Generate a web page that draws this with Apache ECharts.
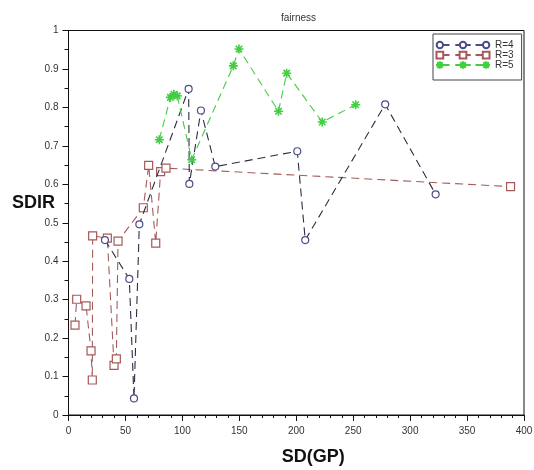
<!DOCTYPE html>
<html>
<head>
<meta charset="utf-8">
<script src="https://cdn.jsdelivr.net/npm/echarts@6/dist/echarts.min.js"></script>
<style>
html,body{margin:0;padding:0;background:#fff;}
#chart{width:534px;height:470px;}
</style>
</head>
<body>
<div id="chart"></div>
<script>
// Data
const seriesNames = ['R=4', 'R=3', 'R=5'];

const r4X = [32.0, 53.4, 57.5, 62.2, 105.5, 106.1, 116.3, 128.9, 200.9, 207.9, 278.1, 322.4];
const r4Y = [0.455, 0.354, 0.043, 0.496, 0.848, 0.601, 0.792, 0.646, 0.686, 0.455, 0.808, 0.574];

const r3X = [5.7, 7.2, 15.4, 19.8, 20.9, 21.2, 34.1, 40.0, 42.0, 43.5, 65.7, 70.4, 76.6, 80.9, 85.6, 388.2];
const r3Y = [0.234, 0.301, 0.284, 0.167, 0.091, 0.466, 0.460, 0.129, 0.146, 0.452, 0.539, 0.649, 0.447, 0.633, 0.642, 0.594];

const r5X = [79.7, 89.5, 92.5, 95.5, 108.2, 144.7, 149.7, 184.4, 191.6, 222.8, 252.2];
const r5Y = [0.716, 0.826, 0.834, 0.830, 0.664, 0.908, 0.952, 0.790, 0.889, 0.762, 0.807];

const xTicks = { min: 0, max: 400, interval: 50 };
const yTicks = { min: 0, max: 1, interval: 0.1 };

function pairs(xs, ys) { return xs.map((x, i) => [x, ys[i]]); }

const asterisk = 'path://M0,-5L0,5M-5,0L5,0M-3.6,-3.6L3.6,3.6M-3.6,3.6L3.6,-3.6';

// legend sample icons: marker - marker - marker joined by dashes (box 56 x 8)
function circ(cx) { return 'M' + (cx - 3.3) + ',4a3.3,3.3 0 1,0 6.6,0a3.3,3.3 0 1,0 -6.6,0'; }
function sq(cx) { return 'M' + (cx - 3.5) + ',0.5L' + (cx + 3.5) + ',0.5L' + (cx + 3.5) + ',7.5L' + (cx - 3.5) + ',7.5Z'; }
function ast(cx) { return 'M' + cx + ',0L' + cx + ',8M' + (cx - 4) + ',4L' + (cx + 4) + ',4M' + (cx - 2.9) + ',1.1L' + (cx + 2.9) + ',6.9M' + (cx - 2.9) + ',6.9L' + (cx + 2.9) + ',1.1'; }
const dashes = 'M8,4L14,4M20,4L24,4M32,4L36,4M41,4L48,4';
const bounds = 'M0,0L0,0M56,8L56,8';
const iconR4 = 'path://' + bounds + circ(4) + circ(28) + circ(52) + dashes;
const iconR3 = 'path://' + bounds + sq(4) + sq(28) + sq(52) + dashes;
const iconR5 = 'path://' + bounds + ast(4) + ast(28) + ast(52) + dashes;

const chart = echarts.init(document.getElementById('chart'), null, { renderer: 'canvas' });
const axisFont = { fontFamily: 'Liberation Sans, Arial, sans-serif', fontSize: 10, color: '#333' };

chart.setOption({
  animation: false,
  backgroundColor: '#fff',
  title: {
    text: 'fairness',
    left: 276, top: 8,
    textStyle: { fontFamily: 'Liberation Sans, Arial, sans-serif', fontSize: 10, fontWeight: 'normal', color: '#333' }
  },
  grid: {
    left: 68.5, top: 30.5, right: 10, bottom: 55,
    outerBoundsMode: 'none', containLabel: false,
    show: true, borderColor: '#111', borderWidth: 1, backgroundColor: 'transparent'
  },
  legend: {
    data: [
      { name: 'R=4', icon: iconR4 },
      { name: 'R=3', icon: iconR3 },
      { name: 'R=5', icon: iconR5 }
    ],
    orient: 'vertical',
    left: 433, top: 34,
    itemWidth: 54, itemHeight: 8, itemGap: 0,
    padding: [6, 8, 10, 2],
    borderColor: '#444', borderWidth: 1, backgroundColor: '#fff',
    textStyle: { fontFamily: 'Liberation Sans, Arial, sans-serif', fontSize: 10, lineHeight: 10, color: '#333' }
  },
  xAxis: {
    type: 'value', min: xTicks.min, max: xTicks.max, interval: xTicks.interval,
    name: 'SD(GP)', nameLocation: 'middle', nameGap: 33, nameMoveOverlap: false,
    nameTextStyle: { fontFamily: 'Liberation Sans, Arial, sans-serif', fontSize: 18, fontWeight: 'bold', color: '#111', padding: [0, 0, 0, 34] },
    axisLine: { lineStyle: { color: '#111', width: 1 } },
    axisTick: { show: true, inside: false, length: 6, lineStyle: { color: '#111' } },
    minorTick: { show: true, splitNumber: 5, length: 3, lineStyle: { color: '#111' } },
    splitLine: { show: false },
    axisLabel: Object.assign({ margin: 11 }, axisFont)
  },
  yAxis: {
    type: 'value', min: yTicks.min, max: yTicks.max, interval: yTicks.interval,
    name: 'SDIR', nameLocation: 'middle', nameRotate: 0, nameGap: 13.5, nameMoveOverlap: false,
    nameTextStyle: { fontFamily: 'Liberation Sans, Arial, sans-serif', fontSize: 18, fontWeight: 'bold', color: '#111', verticalAlign: 'bottom', padding: [0, 0, 11, 0] },
    axisLine: { lineStyle: { color: '#111', width: 1 } },
    axisTick: { show: true, inside: false, length: 6, lineStyle: { color: '#111' } },
    minorTick: { show: true, splitNumber: 2, length: 4, lineStyle: { color: '#111' } },
    splitLine: { show: false },
    axisLabel: Object.assign({ margin: 10 }, axisFont)
  },
  series: [
    {
      name: 'R=4', type: 'line', data: pairs(r4X, r4Y),
      symbol: 'circle', symbolSize: 7,
      itemStyle: { color: '#fff', borderColor: '#4c4c88', borderWidth: 1.2 },
      lineStyle: { color: '#2c2c44', width: 1.1, type: [8, 5] },
      z: 3
    },
    {
      name: 'R=3', type: 'line', data: pairs(r3X, r3Y),
      symbol: 'rect', symbolSize: 8,
      itemStyle: { color: '#fff', borderColor: '#a85858', borderWidth: 1.2 },
      lineStyle: { color: '#a25c5c', width: 1.1, type: [8, 5] },
      z: 2
    },
    {
      name: 'R=5', type: 'line', data: pairs(r5X, r5Y),
      symbol: asterisk, symbolSize: 9,
      itemStyle: { color: '#3fcf3f', borderColor: '#3fcf3f', borderWidth: 1.6 },
      lineStyle: { color: '#48c848', width: 1.1, type: [8, 5] },
      z: 4
    }
  ]
});
</script>
</body>
</html>
